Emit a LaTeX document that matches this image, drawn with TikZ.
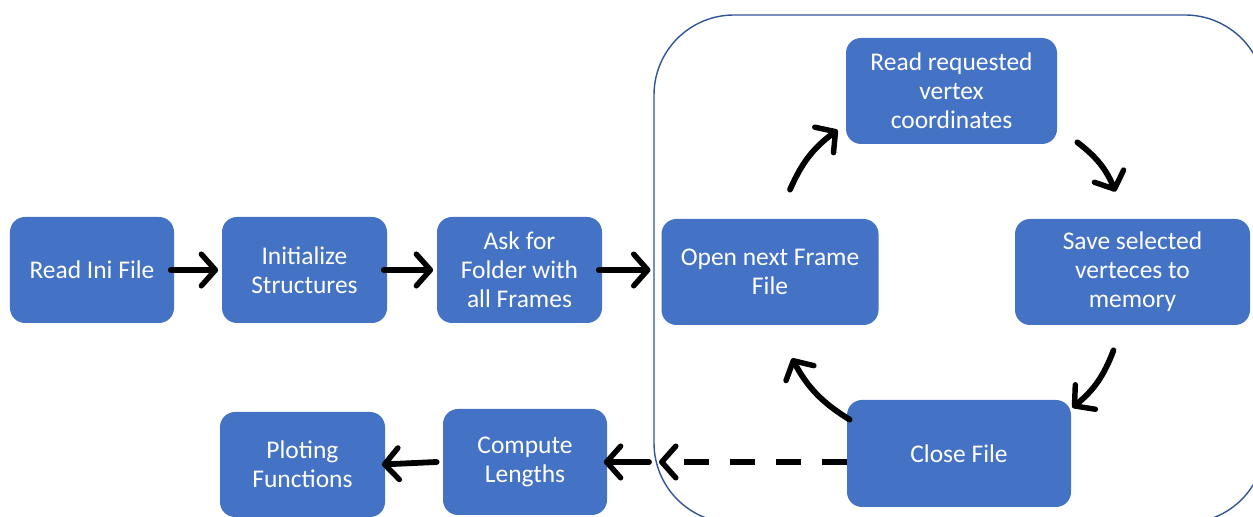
\documentclass[tikz,border=0pt]{standalone}
\usepackage{fontspec}
\setmainfont{Carlito}
\usetikzlibrary{arrows.meta,positioning,calc}
\definecolor{boxblue}{HTML}{4472C4}
\definecolor{loopblue}{HTML}{2F5597}
\begin{document}
\begin{tikzpicture}[line join=round, line cap=round,
	font=\fontsize{14.5}{16.5}\selectfont,
	block/.style={fill=boxblue, text=white, rounded corners=0.3cm, align=center, inner sep=0pt, minimum height=2.12cm},
	flow/.style={line width=3.3pt, -{Straight Barb[length=8pt,width=18pt,line width=3.1pt,round]}},
	cyc/.style={flow, bend left=15}]
	\useasboundingbox (0,0) rectangle (25.06,10.34);
	% loop frame
	\draw[loopblue, line width=0.8pt, rounded corners=1.6cm] (13.08,10.04) rectangle (25.3,-0.12);
	\coordinate (lw) at (13.08,0);
	% blocks
	\node[block, minimum width=3.28cm] (ini) at (1.84,4.94) {Read Ini File};
	\node[block, minimum width=3.3cm] (init) at (6.09,4.94) {Initialize\\Structures};
	\node[block, minimum width=3.3cm] (ask) at (10.39,4.94) {Ask for\\Folder with\\all Frames};
	\node[block, minimum width=4.34cm] (open) at (15.4,4.9) {Open next Frame\\File};
	\node[block, minimum width=4.22cm] (readv) at (19.03,8.52) {Read requested\\vertex\\coordinates};
	\node[block, minimum width=4.7cm] (save) at (22.65,4.9) {Save selected\\verteces to\\memory};
	\node[block, minimum width=4.48cm, minimum height=2.14cm] (close) at (19.18,1.27) {Close File};
	\node[block, minimum width=3.28cm] (comp) at (10.5,1.1) {Compute\\Lengths};
	\node[block, minimum width=3.3cm, minimum height=2.1cm] (plot) at (6.05,1.05) {Ploting\\Functions};
	% straight arrows
	\foreach \a/\b in {ini/init, init/ask}{
		\draw[flow] ([xshift=-2pt]\a.east) -- ([xshift=-2pt]\b.west);
	}
	\draw[flow] ([xshift=-2pt]ask.east) -- ([xshift=-2pt]ask.east -| lw);
	% cycle
	\draw[cyc] ([shift={(0.4,0.58)}]open.north) to ([shift={(-0.16,-0.78)}]readv.west);
	\draw[cyc] ([shift={(0.4,0.04)}]readv.south east) to ([shift={(-0.34,0.54)}]save.north);
	\draw[cyc] ([shift={(-0.38,-0.5)}]save.south) to ([shift={(0.02,-0.16)}]close.north east);
	\draw[cyc] ([shift={(0.06,-0.4)}]close.north west) to ([shift={(0.44,-0.66)}]open.south);
	% exit of the loop
	\draw[flow, line cap=butt, dash pattern=on 0.5cm off 0.42cm] (close.west |- comp) -- ([xshift=0.1cm]comp -| lw);
	\draw[flow] ([xshift=-0.1cm]comp -| lw) -- ([xshift=-2pt]comp.east);
	\draw[flow] ([xshift=-0.12cm]comp.west) -- ([xshift=-2pt]plot.east);
\end{tikzpicture}
\end{document}
